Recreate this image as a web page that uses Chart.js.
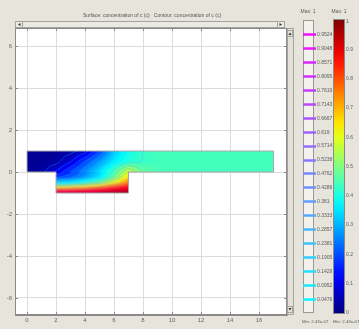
<!DOCTYPE html>
<html>
<head>
<meta charset="utf-8">
<script src="https://cdn.jsdelivr.net/npm/chart.js@4.4.0/dist/chart.umd.min.js"></script>
<style>
html, body { margin: 0; padding: 0; background: #e7e4dc; overflow: hidden; }
canvas { display: block; }
</style>
</head>
<body>
<canvas id="grafico" width="359" height="329"></canvas>
<script>
// nodos del dominio superior (canal) y valores de concentracion
const xTop = [0, 1, 2, 3, 4, 5, 6, 7, 8, 9, 10, 17];
const yTop = [1, 0.5, 0];
const cTop = [
  [0.02, 0.02, 0.02, 0.03, 0.07, 0.19, 0.32, 0.39, 0.43, 0.44, 0.44, 0.44],
  [0.02, 0.02, 0.03, 0.09, 0.19, 0.28, 0.36, 0.41, 0.43, 0.44, 0.44, 0.44],
  [0.02, 0.03, 0.10, 0.19, 0.27, 0.35, 0.45, 0.58, 0.47, 0.45, 0.44, 0.44]
];
// nodos del dominio inferior (cavidad)
const xLow = [2, 3, 4, 5, 6, 7];
const yLow = [0, -0.25, -0.5, -0.75, -1];
const cLow = [
  [0.10, 0.17, 0.25, 0.33, 0.44, 0.58],
  [0.18, 0.22, 0.28, 0.36, 0.48, 0.65],
  [0.35, 0.37, 0.42, 0.49, 0.61, 0.75],
  [0.65, 0.67, 0.70, 0.76, 0.83, 0.88],
  [0.95, 0.96, 0.97, 0.98, 0.99, 1.00]
];
const contourLevels = [0.0476, 0.0952, 0.1429, 0.1905, 0.2381, 0.2857, 0.3333, 0.381, 0.4286, 0.4762,
  0.5238, 0.5714, 0.619, 0.6667, 0.7143, 0.7619, 0.8095, 0.8571, 0.9048, 0.9524];
const colorbarTicks = [0, 0.1, 0.2, 0.3, 0.4, 0.5, 0.6, 0.7, 0.8, 0.9, 1];
const xTicks = [0, 2, 4, 6, 8, 10, 12, 14, 16];
const yTicks = [-6, -4, -2, 0, 2, 4, 6];
// contorno de la geometria
const domainX = [0, 0, 17, 17, 7, 7, 2, 2, 0];
const domainY = [0, 1, 1, 0, 0, -1, -1, 0, 0];
const maxTexto = 'Max: 1';
const minTexto = 'Min: 2.43e-07';
const titulo = 'Surface: concentration of c (c)   Contour: concentration of c (c)';

const fuente = '"Liberation Sans", Arial, sans-serif';

function jet(v) {
  const f = x => Math.max(0, Math.min(1, x));
  const r = f(1.5 - Math.abs(4 * v - 3));
  const g = f(1.5 - Math.abs(4 * v - 2));
  const b = f(1.5 - Math.abs(4 * v - 1));
  return 'rgb(' + Math.round(r * 255) + ',' + Math.round(g * 255) + ',' + Math.round(b * 255) + ')';
}

function cool(v) {
  return 'rgb(' + Math.round(v * 255) + ',' + Math.round((1 - v) * 255) + ',255)';
}

// interpolacion bilineal sobre la malla (ys descendente)
function interp(xs, ys, grid, x, y) {
  let i = 0;
  while (i < xs.length - 2 && x > xs[i + 1]) i++;
  let j = 0;
  while (j < ys.length - 2 && y < ys[j + 1]) j++;
  const tx = Math.min(1, Math.max(0, (x - xs[i]) / (xs[i + 1] - xs[i])));
  const ty = Math.min(1, Math.max(0, (y - ys[j]) / (ys[j + 1] - ys[j])));
  const a = grid[j][i], b = grid[j][i + 1], c = grid[j + 1][i], d = grid[j + 1][i + 1];
  return a * (1 - tx) * (1 - ty) + b * tx * (1 - ty) + c * (1 - tx) * ty + d * tx * ty;
}

function dibujarRegion(ctx, sx, sy, xs, ys, grid) {
  const p0 = Math.round(sx.getPixelForValue(xs[0]));
  const p1 = Math.round(sx.getPixelForValue(xs[xs.length - 1]));
  const q0 = Math.round(sy.getPixelForValue(ys[0]));
  const q1 = Math.round(sy.getPixelForValue(ys[ys.length - 1]));
  // superficie
  for (let py = q0; py < q1; py++) {
    for (let px = p0; px < p1; px++) {
      const v = interp(xs, ys, grid, sx.getValueForPixel(px + 0.5), sy.getValueForPixel(py + 0.5));
      ctx.fillStyle = jet(v);
      ctx.fillRect(px, py, 1, 1);
    }
  }
  // contornos
  const W = p1 - p0, H = q1 - q0;
  const V = [];
  for (let j = 0; j <= H; j++) {
    const fila = [];
    for (let i = 0; i <= W; i++) {
      fila.push(interp(xs, ys, grid, sx.getValueForPixel(p0 + i), sy.getValueForPixel(q0 + j)));
    }
    V.push(fila);
  }
  ctx.save();
  ctx.lineWidth = 0.6;
  ctx.globalAlpha = 0.45;
  contourLevels.forEach(lv => {
    ctx.strokeStyle = cool(lv);
    ctx.beginPath();
    for (let j = 0; j < H; j++) {
      for (let i = 0; i < W; i++) {
        const a = V[j][i], b = V[j][i + 1], c = V[j + 1][i + 1], d = V[j + 1][i];
        const pts = [];
        if ((a < lv) !== (b < lv)) pts.push([p0 + i + (lv - a) / (b - a), q0 + j]);
        if ((b < lv) !== (c < lv)) pts.push([p0 + i + 1, q0 + j + (lv - b) / (c - b)]);
        if ((d < lv) !== (c < lv)) pts.push([p0 + i + (lv - d) / (c - d), q0 + j + 1]);
        if ((a < lv) !== (d < lv)) pts.push([p0 + i, q0 + j + (lv - a) / (d - a)]);
        for (let k = 0; k + 1 < pts.length; k += 2) {
          ctx.moveTo(pts[k][0], pts[k][1]);
          ctx.lineTo(pts[k + 1][0], pts[k + 1][1]);
        }
      }
    }
    ctx.stroke();
  });
  ctx.restore();
}

function flecha(ctx, x, y, dir) {
  ctx.fillStyle = '#333';
  ctx.beginPath();
  if (dir === 'izq') { ctx.moveTo(x + 1.5, y - 1.5); ctx.lineTo(x - 1, y); ctx.lineTo(x + 1.5, y + 1.5); }
  if (dir === 'der') { ctx.moveTo(x - 1.5, y - 1.5); ctx.lineTo(x + 1, y); ctx.lineTo(x - 1.5, y + 1.5); }
  if (dir === 'arr') { ctx.moveTo(x - 1.5, y + 1.5); ctx.lineTo(x, y - 1); ctx.lineTo(x + 1.5, y + 1.5); }
  if (dir === 'aba') { ctx.moveTo(x - 1.5, y - 1.5); ctx.lineTo(x, y + 1); ctx.lineTo(x + 1.5, y - 1.5); }
  ctx.fill();
}

const fondoPlugin = {
  id: 'fondo',
  beforeDraw(chart) {
    const ctx = chart.ctx, a = chart.chartArea;
    ctx.save();
    ctx.fillStyle = '#e7e4dc';
    ctx.fillRect(0, 0, chart.width, chart.height);
    ctx.fillStyle = '#ffffff';
    ctx.fillRect(a.left, a.top, a.right - a.left, a.bottom - a.top);
    ctx.restore();
  },
  beforeDatasetsDraw(chart) {
    const ctx = chart.ctx, sx = chart.scales.x, sy = chart.scales.y;
    ctx.save();
    dibujarRegion(ctx, sx, sy, xTop, yTop, cTop);
    dibujarRegion(ctx, sx, sy, xLow, yLow, cLow);
    ctx.restore();
  },
  afterDraw(chart) {
    const ctx = chart.ctx, a = chart.chartArea, sx = chart.scales.x, sy = chart.scales.y;
    ctx.save();
    // marco y marcas interiores
    ctx.strokeStyle = '#8a8a8a';
    ctx.lineWidth = 1;
    ctx.strokeRect(a.left + 0.5, a.top + 0.5, a.right - a.left - 1, a.bottom - a.top - 1);
    ctx.beginPath();
    xTicks.forEach(v => {
      const p = Math.round(sx.getPixelForValue(v)) + 0.5;
      ctx.moveTo(p, a.bottom); ctx.lineTo(p, a.bottom - 3);
      ctx.moveTo(p, a.top); ctx.lineTo(p, a.top + 3);
    });
    yTicks.forEach(v => {
      const p = Math.round(sy.getPixelForValue(v)) + 0.5;
      ctx.moveTo(a.left, p); ctx.lineTo(a.left + 3, p);
      ctx.moveTo(a.right, p); ctx.lineTo(a.right - 3, p);
    });
    ctx.stroke();

    // titulo
    ctx.fillStyle = '#555';
    ctx.font = '5px ' + fuente;
    ctx.textAlign = 'center';
    ctx.textBaseline = 'middle';
    ctx.fillText(titulo, 152, 16);

    // barra de desplazamiento horizontal
    ctx.fillStyle = '#ebe9e4';
    ctx.fillRect(a.left, 21, a.right - a.left - 2, 7);
    ctx.strokeStyle = '#a5a39d';
    ctx.strokeRect(a.left + 0.5, 21.5, a.right - a.left - 3, 6);
    ctx.strokeRect(a.left + 0.5, 21.5, 7, 6);
    ctx.strokeRect(a.right - 9.5, 21.5, 7, 6);
    flecha(ctx, a.left + 4, 24.5, 'izq');
    flecha(ctx, a.right - 6, 24.5, 'der');

    // barra vertical
    ctx.fillStyle = '#e4e1d9';
    ctx.fillRect(a.right, a.top, 7, a.bottom - a.top);
    ctx.strokeStyle = '#a5a39d';
    ctx.strokeRect(a.right + 0.5, a.top + 0.5, 6, a.bottom - a.top - 1);
    ctx.strokeRect(a.right + 0.5, a.top + 2.5, 5, 6);
    ctx.strokeRect(a.right + 0.5, a.bottom - 8.5, 5, 6);
    flecha(ctx, a.right + 3, a.top + 5.5, 'arr');
    flecha(ctx, a.right + 3, a.bottom - 5.5, 'aba');

    // escala vertical comun para las leyendas
    const yLeg = v => 313 - v * 293;

    // leyenda de contornos
    ctx.fillStyle = '#f3f1ec';
    ctx.fillRect(303, 20, 11, 293);
    ctx.strokeStyle = '#9a9892';
    ctx.strokeRect(303.5, 20.5, 10, 292);
    ctx.lineWidth = 2.5;
    contourLevels.forEach(lv => {
      const y = Math.round(yLeg(lv)) + 0.5;
      ctx.strokeStyle = cool(lv);
      ctx.beginPath();
      ctx.moveTo(303, y); ctx.lineTo(316, y);
      ctx.stroke();
    });
    ctx.fillStyle = '#5a5a5a';
    ctx.font = '5px ' + fuente;
    ctx.textAlign = 'left';
    contourLevels.forEach(lv => {
      ctx.fillText(String(lv), 317, yLeg(lv) + 0.5);
    });

    // barra de color
    const grad = ctx.createLinearGradient(0, yLeg(0), 0, yLeg(1));
    for (let k = 0; k <= 20; k++) grad.addColorStop(k / 20, jet(k / 20));
    ctx.fillStyle = grad;
    ctx.fillRect(334, yLeg(1), 10, yLeg(0) - yLeg(1));
    ctx.lineWidth = 1;
    ctx.strokeStyle = '#8a8a8a';
    ctx.strokeRect(333.5, yLeg(1) - 0.5, 11, yLeg(0) - yLeg(1) + 1);
    ctx.fillStyle = '#5a5a5a';
    colorbarTicks.forEach(v => {
      ctx.fillText(String(v), 346, yLeg(v) + (v === 1 ? 2 : 0));
    });

    // cabeceras y pies
    ctx.textAlign = 'center';
    ctx.fillText(maxTexto, 308, 12);
    ctx.fillText(maxTexto, 339, 12);
    ctx.textAlign = 'left';
    ctx.font = '4.3px ' + fuente;
    ctx.fillText(minTexto, 302, 322);
    ctx.fillText(minTexto, 333, 322);
    ctx.restore();
  }
};

const ctx = document.getElementById('grafico').getContext('2d');
new Chart(ctx, {
  type: 'scatter',
  data: {
    datasets: [{
      data: domainX.map((x, i) => ({ x: x, y: domainY[i] })),
      showLine: true,
      borderColor: '#a8a8a8',
      borderWidth: 1,
      pointRadius: 0,
      tension: 0
    }]
  },
  options: {
    responsive: false,
    animation: false,
    devicePixelRatio: 1,
    events: [],
    layout: { padding: { left: 0, top: 28, right: 72, bottom: 0 } },
    plugins: {
      legend: { display: false },
      tooltip: { enabled: false }
    },
    scales: {
      x: {
        type: 'linear',
        min: -0.83,
        max: 17.93,
        afterBuildTicks: s => { s.ticks = xTicks.map(v => ({ value: v })) },
        afterFit: s => { s.height = 14 },
        ticks: { font: { size: 6, family: fuente }, color: '#666', padding: 2, maxRotation: 0 },
        grid: { color: '#dcdcdc', drawTicks: false },
        border: { color: '#8a8a8a' }
      },
      y: {
        type: 'linear',
        min: -6.81,
        max: 6.86,
        afterBuildTicks: s => { s.ticks = yTicks.map(v => ({ value: v })) },
        afterFit: s => { s.width = 15 },
        ticks: { font: { size: 6, family: fuente }, color: '#666', padding: 3 },
        grid: { color: '#dcdcdc', drawTicks: false },
        border: { color: '#8a8a8a' }
      }
    }
  },
  plugins: [fondoPlugin]
});
</script>
</body>
</html>
